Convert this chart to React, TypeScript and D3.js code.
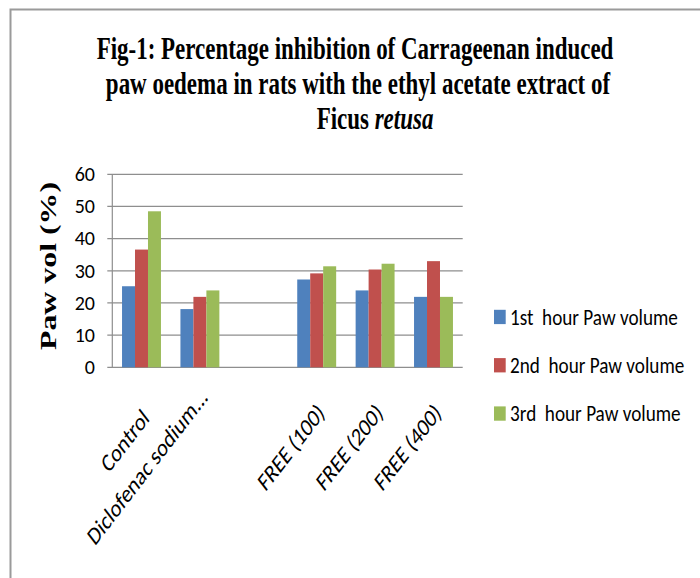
import React, { useRef, useEffect } from "react";
import * as d3 from "d3";

// categories on the x axis (third slot is an empty gap in the original)
const categories = ["Control", "Diclofenac sodium...", "", "FREE (100)", "FREE (200)", "FREE (400)"];
const seriesNames = ["1st  hour Paw volume", "2nd  hour Paw volume", "3rd  hour Paw volume"];
const hour1 = [25.2, 18.1, null, 27.3, 23.9, 21.9];
const hour2 = [36.6, 21.9, null, 29.2, 30.4, 33.0];
const hour3 = [48.5, 23.9, null, 31.4, 32.2, 21.9];
const yTicks = [0, 10, 20, 30, 40, 50, 60];
const colors = ["#4F81BD", "#C0504D", "#9BBB59"];

const titleLine1 = "Fig-1: Percentage inhibition of Carrageenan induced";
const titleLine2 = "paw oedema in rats with the ethyl acetate extract of";
const titleLine3 = [
  ["Ficus ", false],
  ["retusa", true],
];
const yLabel = "Paw vol (%)";

const W = 700;
const H = 578;
const sansFont = "Carlito, Lato, sans-serif";
const serifFont = "'Liberation Serif', 'Times New Roman', serif";

const App = () => {
  const svgRef = useRef(null);

  useEffect(() => {
    const svg = d3.select(svgRef.current);
    svg.selectAll("*").remove();

    const plot = { left: 112.3, right: 462.7, top: 174.3, bottom: 367.3 };

    // outer frame (only top and left edges show in the crop)
    svg
      .append("path")
      .attr("d", `M10.5,${H} V9.5 H${W}`)
      .attr("fill", "none")
      .attr("stroke", "#9a9a9a")
      .attr("stroke-width", 2);

    // title
    const title = svg
      .append("g")
      .style("font-family", serifFont)
      .style("font-weight", "bold")
      .style("font-size", "31px")
      .attr("fill", "#000");

    const t1 = title.append("text").attr("text-anchor", "middle").text(titleLine1);
    const k = 517 / t1.node().getComputedTextLength();
    t1.attr("transform", `translate(355,58.5) scale(${k},1)`);
    title
      .append("text")
      .attr("text-anchor", "middle")
      .attr("transform", `translate(358,93.5) scale(${k},1)`)
      .text(titleLine2);
    const t3 = title
      .append("text")
      .attr("text-anchor", "middle")
      .attr("transform", `translate(375,129) scale(${k},1)`);
    titleLine3.forEach(([s, it]) => {
      t3.append("tspan").style("font-style", it ? "italic" : "normal").text(s);
    });

    const x = d3
      .scaleBand()
      .domain(categories.map((_, i) => String(i)))
      .range([plot.left, plot.right]);

    const y = d3.scaleLinear().domain([0, 60]).range([plot.bottom, plot.top]);

    const band = x.bandwidth();
    const barW = band / 4.5; // excel gap width 150%
    const xs = d3
      .scaleBand()
      .domain(seriesNames)
      .range([(band - 3 * barW) / 2, (band + 3 * barW) / 2]);

    // gridlines + tick marks
    const grid = svg.append("g");
    grid
      .selectAll("line")
      .data(yTicks)
      .enter()
      .append("line")
      .attr("x1", plot.left - 5)
      .attr("x2", plot.right)
      .attr("y1", (d) => y(d))
      .attr("y2", (d) => y(d))
      .attr("stroke", "#8e8e8e")
      .attr("stroke-width", 1.2);

    grid
      .append("line")
      .attr("x1", plot.left)
      .attr("x2", plot.left)
      .attr("y1", plot.top)
      .attr("y2", plot.bottom)
      .attr("stroke", "#8e8e8e")
      .attr("stroke-width", 1.2);

    // y tick labels
    svg
      .append("g")
      .selectAll("text")
      .data(yTicks)
      .enter()
      .append("text")
      .attr("x", 95)
      .attr("y", (d) => y(d))
      .attr("dy", "0.34em")
      .attr("text-anchor", "end")
      .style("font-family", sansFont)
      .style("font-size", "20px")
      .attr("fill", "#000")
      .text((d) => d);

    // bars
    const series = [hour1, hour2, hour3];
    series.forEach((vals, si) => {
      svg
        .append("g")
        .selectAll("rect")
        .data(vals.map((v, i) => ({ v, i })).filter((d) => d.v != null))
        .enter()
        .append("rect")
        .attr("x", (d) => x(String(d.i)) + xs(seriesNames[si]))
        .attr("y", (d) => y(d.v))
        .attr("width", xs.bandwidth())
        .attr("height", (d) => plot.bottom - y(d.v))
        .attr("fill", colors[si]);
    });

    // x labels, rotated and squeezed like the original
    const xl = svg.append("g");
    categories.forEach((c, i) => {
      if (!c) return;
      const t = xl
        .append("text")
        .attr("text-anchor", "end")
        .style("font-family", sansFont)
        .style("font-size", "25.5px")
        .attr("fill", "#000")
        .style("white-space", "pre")
        .text(c);
      const L = t.node().getComputedTextLength();
      const ax = x(String(i)) + band / 2 + 9;
      const ay = plot.bottom + 47 - 0.16 * (L - 110);
      t.attr("transform", `translate(${ax},${ay}) scale(0.77,1) rotate(-45)`);
    });

    // y axis title
    svg
      .append("text")
      .attr("transform", "translate(56,266) rotate(-90)")
      .attr("text-anchor", "middle")
      .attr("textLength", 168)
      .attr("lengthAdjust", "spacingAndGlyphs")
      .style("font-family", serifFont)
      .style("font-weight", "bold")
      .style("font-size", "24px")
      .attr("fill", "#000")
      .text(yLabel);

    // legend
    const lg = svg.append("g");
    let lk = 1;
    seriesNames.forEach((name, i) => {
      const cy = 317 + i * 48.3;
      lg.append("rect")
        .attr("x", 494)
        .attr("y", cy - 7.2)
        .attr("width", 11.7)
        .attr("height", 14.3)
        .attr("fill", colors[i]);
      const t = lg
        .append("text")
        .style("font-family", sansFont)
        .style("font-size", "23px")
        .style("white-space", "pre")
        .attr("fill", "#000")
        .text(name);
      if (i === 0) lk = 168 / t.node().getComputedTextLength();
      t.attr("transform", `translate(510,${cy + 7.5}) scale(${lk},1)`);
    });
  }, []);

  return (
    <svg
      ref={svgRef}
      width={W}
      height={H}
      style={{ position: "absolute", left: 0, top: 0, background: "#fff" }}
    ></svg>
  );
};

export default App;
